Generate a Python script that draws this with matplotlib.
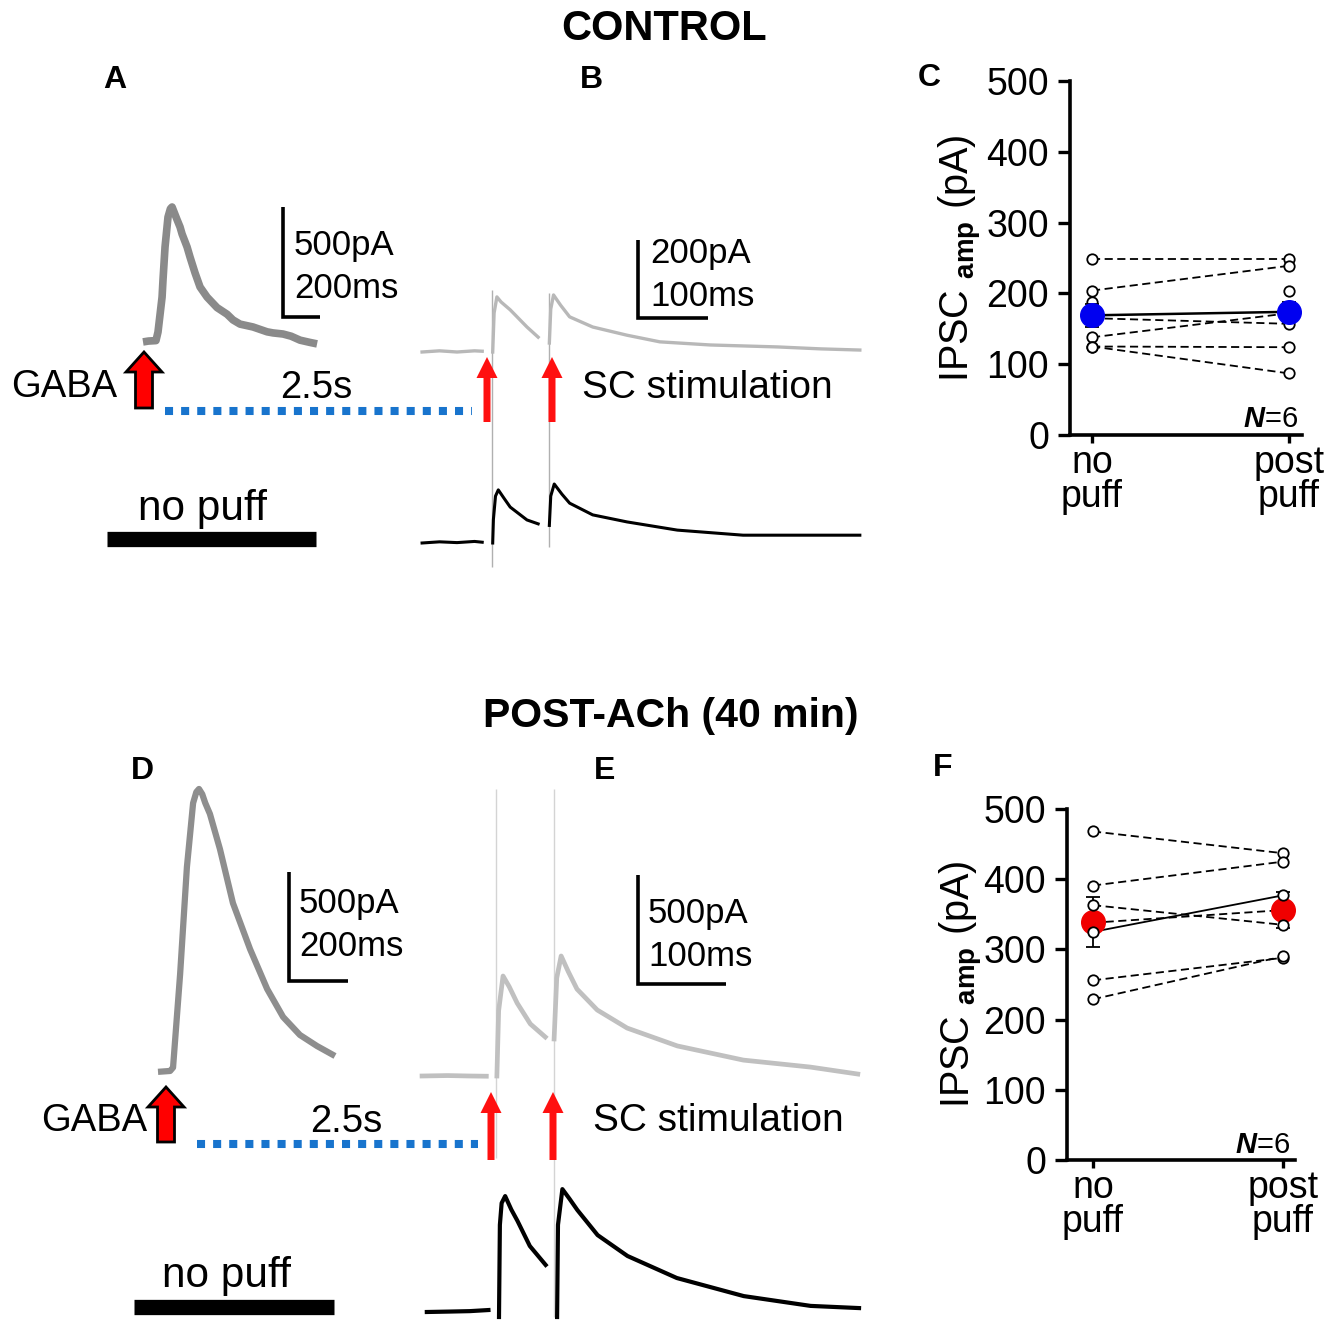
"""
CONTROL vs POST-ACh: GABA puff traces, SC-evoked IPSCs and paired IPSC amplitudes.
Trace values are read off the published figure (time in ms, current in pA).
"""

import numpy as np
import matplotlib
matplotlib.use("Agg")
import matplotlib.pyplot as plt
import matplotlib.patches as mpatches

nan = np.nan

plt.rcParams["font.family"] = ["Liberation Sans", "DejaVu Sans"]
plt.rcParams["mathtext.fontset"] = "custom"
plt.rcParams["mathtext.rm"] = "Liberation Sans"
plt.rcParams["mathtext.bf"] = "Liberation Sans:bold"
plt.rcParams["mathtext.it"] = "Liberation Sans:bold:italic"

W, H = 1339, 1332

# ---------------------------------------------------------------------------
# Data (ms / pA)
# ---------------------------------------------------------------------------

# A: GABA puff response, control
A_T = [0, 30, 70, 81, 103, 108, 119, 135, 148, 157, 170, 184, 200, 211, 238, 254,
       281, 308, 346, 400, 454, 486, 524, 594, 670, 702, 756, 800, 848, 900, 940]
A_I = [14, 18, 20, 59, 218, 296, 446, 582, 620, 628, 600, 570, 537, 505, 446, 400,
       328, 264, 218, 170, 140, 114, 95, 82, 60, 55, 50, 40, 22, 12, 5]

# B: paired SC-evoked IPSCs, control (grey = after puff, black = no puff)
B_GRAY_T = [-100, -75, -50, -25, -14, nan, 1, 3, 7, 13, 26, 50, 66, nan,
            82, 84, 88, 98, 111, 144, 193, 240, 312, 408, 470, 526]
B_GRAY_I = [0, 3, 0, 3, 2, nan, 0, 100, 141, 128, 108, 64, 38, nan,
            23, 110, 146, 120, 90, 64, 43, 26, 18, 13, 8, 5]
B_BLK_T = [-100, -75, -50, -25, -14, nan, 1, 2, 5, 9, 17, 26, 50, 66, nan,
           82, 84, 89, 100, 111, 144, 193, 265, 359, 441, 526]
B_BLK_I = [0, 3, 1, 4, 2, nan, 0, 60, 120, 136, 115, 92, 59, 49, nan,
           45, 120, 151, 125, 102, 72, 54, 33, 20, 20, 20]
B_STIM_T = [0, 81.5]
B_ART_TOP = [159, 151]
B_ART_BOT = [-550, -499]

# D: GABA puff response, post-ACh
D_T = [0, 41, 51, 75, 98, 119, 130, 139, 150, 160, 176, 210, 254, 312, 370, 424, 481, 539, 600]
D_I = [10, 14, 30, 461, 954, 1249, 1300, 1314, 1290, 1250, 1199, 1037, 788, 576, 392, 263, 180, 129, 83]

# E: paired SC-evoked IPSCs, post-ACh
E_GRAY_T = [-84, -55, -30, -11, nan, 1, 3, 8, 15, 24, 39, 56, nan,
            66, 69, 74, 82, 92, 115, 149, 206, 281, 357, 411]
E_GRAY_I = [0, 2, 0, -1, nan, 0, 300, 459, 410, 335, 239, 179, nan,
            170, 450, 551, 480, 399, 303, 220, 138, 73, 41, 9]
E_BLK_T = [-82, -56, -33, -12, nan, 0, 1, 3, 7, 14, 21, 35, 53, nan,
           66, 67, 72, 80, 89, 112, 146, 202, 278, 354, 409]
E_BLK_I = [0, 2, 4, 9, nan, -23, 400, 500, 532, 470, 418, 303, 216, nan,
           -23, 400, 564, 520, 468, 353, 257, 156, 73, 28, 18]
E_STIM_T = [0, 66]
E_ART_TOP = [1317, 1317]
E_ART_BOT = [-376, -1106]

# scale bars (pA, ms)
SCALE_A = (500, 200)
SCALE_B = (200, 100)
SCALE_D = (500, 200)
SCALE_E = (500, 100)

# C / F: IPSC amplitude, no puff vs post puff
CONDITIONS = ["no\npuff", "post\npuff"]
Y_TICKS = [0, 100, 200, 300, 400, 500]

C_NO = [248, 204, 188, 165, 138, 125, 125]
C_POST = [248, 239, 204, 157, 172, 124, 87]
C_STYLE = ["--", "--", "", "--", "--", "--", "--"]
C_MEAN = [169, 174]
C_SEM = [16, 14]

F_NO = [468, 391, 363, 338, 325, 256, 229]
F_POST = [437, 425, 335, 356, 377, 288, 290]
F_STYLE = ["--", "--", "--", "--", "-", "--", "--"]
F_MEAN = [339, 356]
F_SEM = [35, 26]

N_CELLS = 6

# ---------------------------------------------------------------------------
# Figure
# ---------------------------------------------------------------------------

fig = plt.figure(figsize=(W / 100, H / 100), dpi=100)
fig.patch.set_facecolor("white")


def trace_ax(origin, ms_per_px, pa_per_px):
    """Transparent full-figure axes whose (0 ms, 0 pA) sits at pixel `origin`."""
    x0, y0 = origin
    ax = fig.add_axes([0, 0, 1, 1])
    ax.set_axis_off()
    ax.set_xlim(-x0 * ms_per_px, (W - x0) * ms_per_px)
    ax.set_ylim(-(H - y0) * pa_per_px, y0 * pa_per_px)
    return ax


def scale_bar(ax, corner, scale, lw=2.6):
    pa, ms = scale
    x, y = corner
    ax.plot([x, x, x + ms], [y + pa, y, y], color="black", lw=lw,
            solid_joinstyle="miter", solid_capstyle="butt")


# --- traces ---------------------------------------------------------------
ax_a = trace_ax((143, 345), 5.4, 4.55)
ax_a.plot(A_T, A_I, color="#8a8a8a", lw=5.5, solid_capstyle="butt")
scale_bar(ax_a, (756, 127), SCALE_A)

ax_bg = trace_ax((492, 352), 1.43, 2.56)
ax_bg.vlines(B_STIM_T, B_ART_BOT, B_ART_TOP, color="#b0b0b0", lw=1.0)
ax_bg.plot(B_GRAY_T, B_GRAY_I, color="#b8b8b8", lw=2.4)
scale_bar(ax_bg, (209, 87), SCALE_B)
ax_bk = trace_ax((492, 543), 1.43, 2.56)
ax_bk.plot(B_BLK_T, B_BLK_I, color="black", lw=2.2)

ax_d = trace_ax((158, 1074), 3.39, 4.61)
ax_d.plot(D_T, D_I, color="#8e8e8e", lw=4.5, solid_capstyle="butt")
scale_bar(ax_d, (444, 429), SCALE_D)

ax_eg = trace_ax((496, 1076), 1.136, 4.59)
ax_eg.vlines(E_STIM_T, E_ART_BOT, E_ART_TOP, color="#d4d4d4", lw=1.0)
ax_eg.plot(E_GRAY_T, E_GRAY_I, color="#c0c0c0", lw=3.4)
scale_bar(ax_eg, (161, 421), SCALE_E)
ax_ek = trace_ax((499, 1312), 1.136, 4.59)
ax_ek.plot(E_BLK_T, E_BLK_I, color="black", lw=3.0)


# --- paired amplitude panels -------------------------------------------------
def ipsc_panel(rect, xlim, no, post, styles, mean, sem, color,
               mean_line, circles_on_top, label_x, n_pos):
    ax = fig.add_axes(rect)
    for a, b, ls in zip(no, post, styles):
        if ls:
            ax.plot([0, 1], [a, b], color="black", lw=1.3,
                    ls="-" if ls == "-" else (0, (4.5, 2.5)), zorder=2)
    for x, vals, m in ((0, no, mean[0]), (1, post, mean[1])):
        for v in vals:
            # points sitting right on the mean stay hidden behind it
            z = 6 if (circles_on_top and abs(v - m) > 6) else 3
            ax.plot([x], [v], "o", mfc="white", mec="black", ms=7.5, mew=1.3, zorder=z)
    if mean_line:
        ax.plot([0, 1], mean, color="black", lw=1.8, zorder=4)
    ax.errorbar([0, 1], mean, yerr=sem, fmt="o", color=color, mec=color,
                ms=17, ecolor="black", elinewidth=1.3, capsize=5,
                capthick=1.3, zorder=5)

    ax.set_xlim(*xlim)
    ax.set_ylim(0, 500)
    ax.set_yticks(Y_TICKS)
    ax.set_xticks([0, 1])
    ax.set_xticklabels(CONDITIONS)
    for lbl in ax.get_xticklabels():
        lbl.set_linespacing(0.95)
    for side in ("top", "right"):
        ax.spines[side].set_visible(False)
    for side in ("left", "bottom"):
        ax.spines[side].set_linewidth(2.6)
    ax.tick_params(axis="y", length=9, width=2.4, labelsize=27, pad=6)
    ax.tick_params(axis="x", length=6, width=2.4, labelsize=27, pad=1)
    ax.set_ylabel(r"IPSC $_{\mathbf{amp}}$ (pA)", fontsize=28.5)
    ax.yaxis.set_label_coords(label_x, 0.5)
    ax.text(n_pos[0], n_pos[1], r"$\mathit{N}$=%d" % N_CELLS, fontsize=21,
            ha="right", va="baseline", transform=ax.transAxes)
    return ax


ipsc_panel([1070 / W, (H - 435) / H, 232 / W, 354 / H], (-0.112, 1.066),
           C_NO, C_POST, C_STYLE, C_MEAN, C_SEM, "#0000f0",
           mean_line=True, circles_on_top=False, label_x=-0.37, n_pos=(0.983, 0.023))
ipsc_panel([1067 / W, (H - 1160) / H, 228 / W, 351 / H], (-0.137, 1.063),
           F_NO, F_POST, F_STYLE, F_MEAN, F_SEM, "#f00000",
           mean_line=False, circles_on_top=True, label_x=-0.36, n_pos=(0.978, 0.02))

# --- annotations (pixel overlay) ------------------------------------------------
ov = fig.add_axes([0, 0, 1, 1])
ov.set_axis_off()
ov.set_xlim(0, W)
ov.set_ylim(H, 0)

ov.text(664, 29, "CONTROL", fontsize=30, fontweight="bold", ha="center", va="center")
ov.text(671, 716, "POST-ACh (40 min)", fontsize=29.5, fontweight="bold",
        ha="center", va="center")

for s, x, y in (("A", 115, 80), ("B", 591, 80), ("C", 929, 78),
                ("D", 142, 771), ("E", 605, 771), ("F", 943, 768)):
    ov.text(x, y, s, fontsize=23, fontweight="bold", ha="center", va="center")

# scale bar labels
for x, y, s in ((294, 246, "500pA"), (294, 289, "200ms"),
                (650, 253, "200pA"), (650, 296, "100ms"),
                (299, 903, "500pA"), (299, 946, "200ms"),
                (648, 914, "500pA"), (648, 957, "100ms")):
    ov.text(x, y, s, fontsize=25, ha="left", va="center")

# GABA puff arrows
for x, tip, base, tx, ty in ((144, 352, 408, 117, 387), (166, 1087, 1142, 147, 1121)):
    ov.add_patch(mpatches.FancyArrow(x, base, 0, tip - base, width=17, head_width=36,
                                     head_length=20, length_includes_head=True,
                                     fc="#ff0000", ec="black", lw=2, zorder=5))
    ov.text(tx, ty, "GABA", fontsize=27.5, ha="right", va="center")

# 2.5 s delay
for x0, x1, y, tx, ty in ((165, 472, 411, 316, 388), (197, 478, 1144, 346, 1122)):
    ov.plot([x0, x1], [y, y], color="#1874cd", lw=5.8, ls=(0, (1, 1)),
            dash_capstyle="butt")
    ov.text(tx, ty, "2.5s", fontsize=27.5, ha="center", va="center")

# SC stimulation arrows
for xs, tip, base, tx, ty in (((487, 552), 357, 422, 582, 388),
                              ((491, 553), 1092, 1160, 593, 1121)):
    for x in xs:
        ov.add_patch(mpatches.FancyArrow(x, base, 0, tip - base, width=7, head_width=21,
                                         head_length=21, length_includes_head=True,
                                         fc="#ff1010", ec="none", zorder=5))
    ov.text(tx, ty, "SC stimulation", fontsize=28, ha="left", va="center")

# no puff bars
for x0, x1, y, tx, ty in ((107, 316, 539, 203, 509), (134, 334, 1307, 226, 1276)):
    ov.plot([x0, x1], [y, y], color="black", lw=11, solid_capstyle="butt")
    ov.text(tx, ty, "no puff", fontsize=30.5, ha="center", va="center")

fig.savefig("out.png", dpi=100, facecolor="white")
